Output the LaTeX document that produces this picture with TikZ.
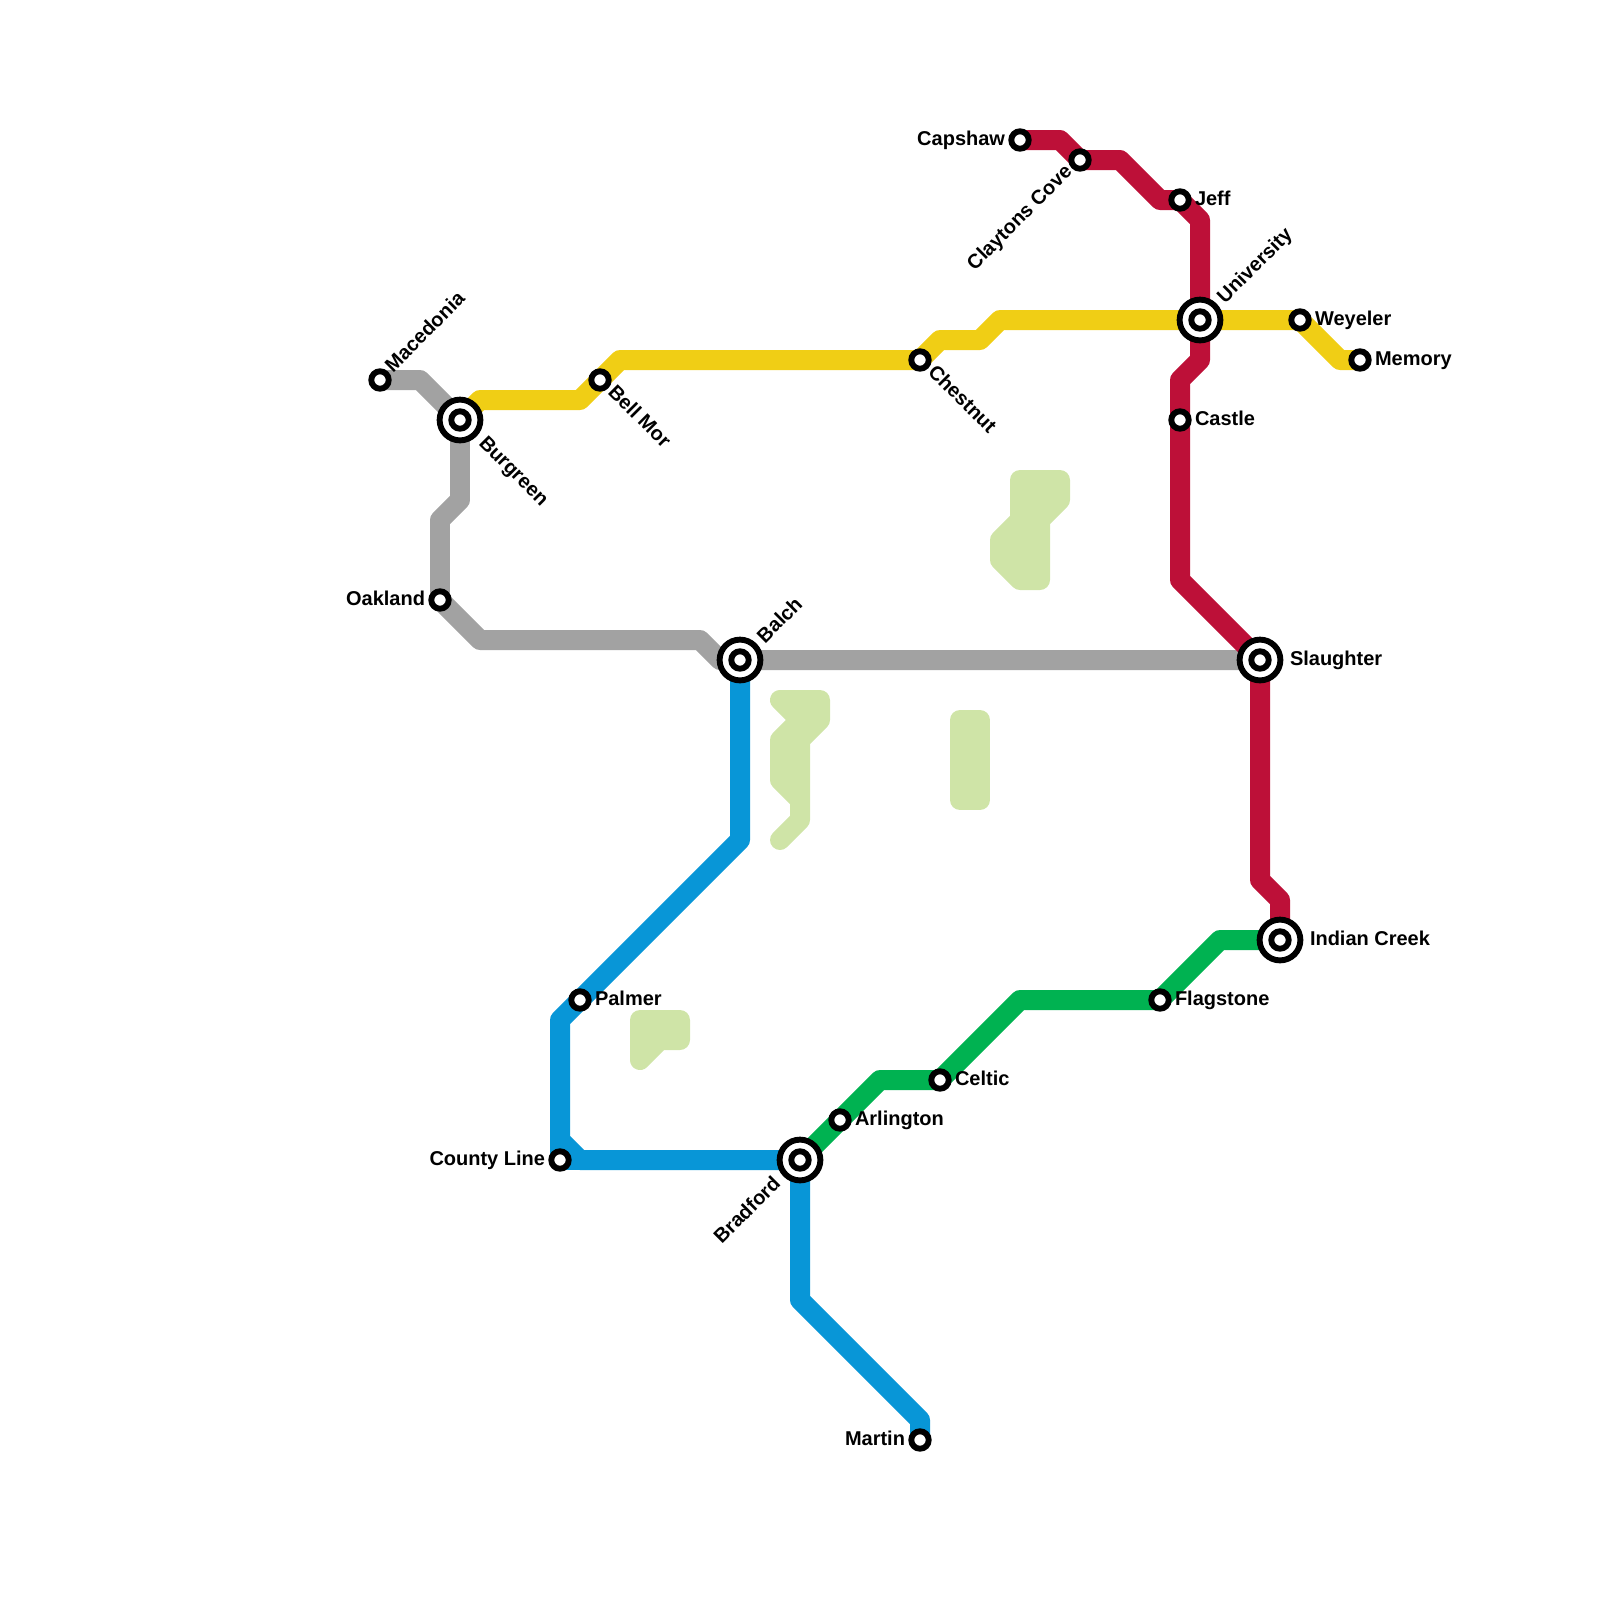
\documentclass[tikz,border=0pt]{standalone}
\usepackage{fontspec}
\setmainfont{Liberation Sans}
\usetikzlibrary{backgrounds}
\definecolor{linegray}{HTML}{A2A2A2}
\definecolor{lineyellow}{HTML}{F0CE15}
\definecolor{linered}{HTML}{BD1038}
\definecolor{lineblue}{HTML}{0896D7}
\definecolor{linegreen}{HTML}{00B251}
\definecolor{parkgreen}{HTML}{CFE4A7}
\tikzset{
    stop/.style={circle, draw=black, fill=white, line width=2.1pt, minimum size=6.2pt, inner sep=0pt, outer sep=0pt},
    hub/.style={stop, minimum size=14.5pt, path picture={\draw[line width=2.1pt] (path picture bounding box.center) circle (3.1pt);}},
    tag/.style={font=\fontsize{7.11}{8}\selectfont\bfseries, inner sep=0pt, outer sep=0pt},
    route/.style={line width=7.11pt, line join=round, line cap=round},
    park/.style={draw=parkgreen, fill=parkgreen, line width=7.11pt, line join=round, line cap=round}
}
\begin{document}
\begin{tikzpicture}[x=0.25cm, y=-0.25cm]
    \useasboundingbox (0,0) rectangle (80,80);

    \node[stop] (macedonia) at (19,19) {};
    \node[hub] (burgreen) at (23,21) {};
    \node[stop] (bell_mor) at (30,19) {};
    \node[stop] (chestnut) at (46,18) {};
    \node[stop] (capshaw) at (51,7) {};
    \node[stop] (claytons_cove) at (54,8) {};
    \node[stop] (jeff) at (59,10) {};
    \node[hub] (university) at (60,16) {};
    \node[stop] (weyeler) at (65,16) {};
    \node[stop] (memory) at (68,18) {};
    \node[stop] (castle) at (59,21) {};
    \node[stop] (oakland) at (22,30) {};
    \node[hub] (balch) at (37,33) {};
    \node[hub] (slaughter) at (63,33) {};
    \node[hub] (indian_creek) at (64,47) {};
    \node[stop] (flagstone) at (58,50) {};
    \node[stop] (palmer) at (29,50) {};
    \node[stop] (celtic) at (47,54) {};
    \node[stop] (arlington) at (42,56) {};
    \node[hub] (bradford) at (40,58) {};
    \node[stop] (county_line) at (28,58) {};
    \node[stop] (martin) at (46,72) {};

    \node[tag, rotate=45, anchor=base west] (macedonia_tag) at ([shift={(.65,-.35)}]macedonia.center) {Macedonia};
    \node[tag, rotate=-45, anchor=base west] (burgreen_tag) at ([shift={(.9,1.2)}]burgreen.center) {Burgreen};
    \node[tag, rotate=-45, anchor=base west] (bell_mor_tag) at ([shift={(.35,.65)}]bell_mor.center) {Bell Mor};
    \node[tag, rotate=-45, anchor=base west] (chestnut_tag) at ([shift={(.35,.65)}]chestnut.center) {Chestnut};
    \node[tag, anchor=base east] (capshaw_tag) at ([shift={(-.75,.25)}]capshaw.center) {Capshaw};
    \node[tag, rotate=45, anchor=base east] (claytons_cove_tag) at ([shift={(-.35,.65)}]claytons_cove.center) {Claytons Cove};
    \node[tag, anchor=base west] (jeff_tag) at ([shift={(.75,.25)}]jeff.center) {Jeff};
    \node[tag, rotate=45, anchor=base west] (university_tag) at ([shift={(1.25,-.8)}]university.center) {University};
    \node[tag, anchor=base west] (weyeler_tag) at ([shift={(.75,.25)}]weyeler.center) {Weyeler};
    \node[tag, anchor=base west] (memory_tag) at ([shift={(.75,.25)}]memory.center) {Memory};
    \node[tag, anchor=base west] (castle_tag) at ([shift={(.75,.25)}]castle.center) {Castle};
    \node[tag, anchor=base east] (oakland_tag) at ([shift={(-.75,.25)}]oakland.center) {Oakland};
    \node[tag, rotate=45, anchor=base west] (balch_tag) at ([shift={(1.25,-.8)}]balch.center) {Balch};
    \node[tag, anchor=base west] (slaughter_tag) at ([shift={(1.5,.25)}]slaughter.center) {Slaughter};
    \node[tag, anchor=base west] (indian_creek_tag) at ([shift={(1.5,.25)}]indian_creek.center) {Indian Creek};
    \node[tag, anchor=base west] (flagstone_tag) at ([shift={(.75,.25)}]flagstone.center) {Flagstone};
    \node[tag, anchor=base west] (palmer_tag) at ([shift={(.75,.25)}]palmer.center) {Palmer};
    \node[tag, anchor=base west] (celtic_tag) at ([shift={(.75,.25)}]celtic.center) {Celtic};
    \node[tag, anchor=base west] (arlington_tag) at ([shift={(.75,.25)}]arlington.center) {Arlington};
    \node[tag, rotate=45, anchor=base east] (bradford_tag) at ([shift={(-.92,1.25)}]bradford.center) {Bradford};
    \node[tag, anchor=base east] (county_line_tag) at ([shift={(-.75,.25)}]county_line.center) {County Line};
    \node[tag, anchor=base east] (martin_tag) at ([shift={(-.75,.25)}]martin.center) {Martin};

    \begin{scope}[on background layer]
        \draw[park] (51,24) -- (53,24) -- (53,25) -- (52,26) -- (52,29) -- (51,29) -- (50,28) -- (50,27) -- (51,26) -- cycle;
        \draw[park] (39,35) -- (41,35) -- (41,36) -- (40,37) -- (40,41) -- (39,42) -- (40,41) -- (40,40) -- (39,39) -- (39,37) -- (40,36) -- cycle;
        \draw[park] (48,36) -- (49,36) -- (49,40) -- (48,40) -- cycle;
        \draw[park] (32,51) -- (34,51) -- (34,52) -- (33,52) -- (32,53) -- cycle;

        \draw[route, linegray] (macedonia.center) -- (21,19) -- (burgreen.center) -- (23,25) -- (22,26) -- (oakland.center) -- (24,32) -- (35,32) -- (36,33) -- (balch.center) -- (slaughter.center);
        \draw[route, linered] (capshaw.center) -- (53,7) -- (claytons_cove.center) -- (56,8) -- (58,10) -- (jeff.center) -- (60,11) -- (university.center) -- (60,18) -- (59,19) -- (castle.center) -- (59,29) -- (slaughter.center) -- (63,44) -- (64,45) -- (indian_creek.center);
        \draw[route, lineyellow] (burgreen.center) -- (24,20) -- (29,20) -- (bell_mor.center) -- (31,18) -- (chestnut.center) -- (47,17) -- (49,17) -- (50,16) -- (university.center) -- (weyeler.center) -- (67,18) -- (memory.center);
        \draw[route, linegreen] (bradford.center) -- (arlington.center) -- (44,54) -- (celtic.center) -- (51,50) -- (flagstone.center) -- (61,47) -- (indian_creek.center);
        \draw[route, lineblue] (balch.center) -- (37,42) -- (palmer.center) -- (28,51) -- (28,57) -- (29,58) -- (bradford.center) -- (40,65) -- (46,71) -- (martin.center);
        \draw[route, lineblue] (28,57) -- (county_line.center) -- (29,58);
    \end{scope}
\end{tikzpicture}
\end{document}
